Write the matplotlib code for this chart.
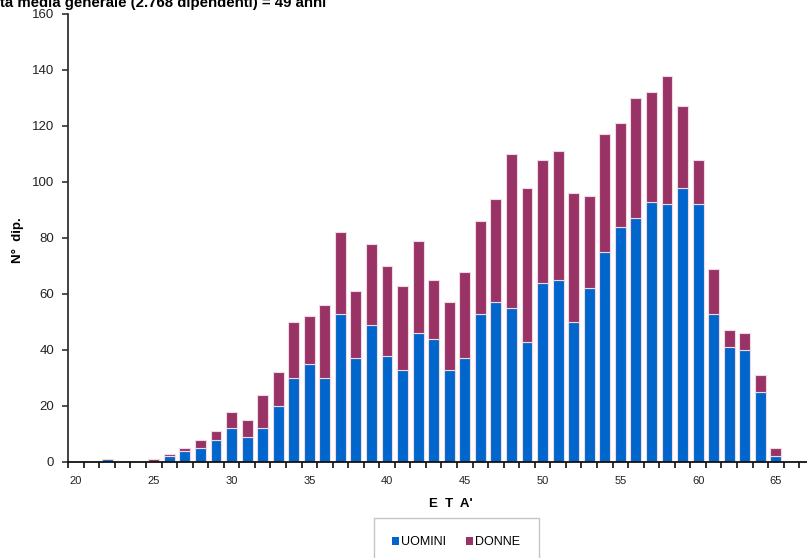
import matplotlib
matplotlib.use("Agg")
import matplotlib.pyplot as plt
import numpy as np

plt.rcParams['font.family'] = ['Liberation Sans', 'DejaVu Sans']

ages = list(range(20, 67))
uomini = [0, 0, 1, 0, 0, 0, 2, 4, 5, 8, 12, 9, 12, 20, 30, 35, 30, 53, 37, 49,
          38, 33, 46, 44, 33, 37, 53, 57, 55, 43, 64, 65, 50, 62, 75, 84, 87, 93,
          92, 98, 92, 53, 41, 40, 25, 2, 0]
totale = [0, 0, 1, 0, 0, 1, 3, 5, 8, 11, 18, 15, 24, 32, 50, 52, 56, 82, 61, 78,
          70, 63, 79, 65, 57, 68, 86, 94, 110, 98, 108, 111, 96, 95, 117, 121, 130,
          132, 138, 127, 108, 69, 47, 46, 31, 5, 0]
donne = [t - u for t, u in zip(totale, uomini)]
x_labels = [20, 25, 30, 35, 40, 45, 50, 55, 60, 65]
y_ticks = [0, 20, 40, 60, 80, 100, 120, 140, 160]
title = "Età media generale (2.768 dipendenti) = 49 anni"

c_u = '#0066CC'
c_d = '#993366'
edge = '#efd9e5'

fig = plt.figure(figsize=(8.07, 5.58), dpi=100)
W, H = 807, 558
ax = fig.add_axes([68.2 / W, (H - 462) / H, (W - 68.2) / W, (462 - 14) / H])

b1 = ax.bar(ages, uomini, width=0.7, color=c_u, edgecolor=edge, linewidth=0.8, label='UOMINI')
b2 = ax.bar(ages, donne, width=0.7, bottom=uomini, color=c_d, edgecolor=edge, linewidth=0.8, label='DONNE')

ax.set_xlim(19.5, 67.0)
ax.set_ylim(0, 160)
ax.spines['top'].set_visible(False)
ax.spines['right'].set_visible(False)
ax.spines['left'].set_color('#333333')
ax.spines['left'].set_linewidth(1.3)
ax.spines['bottom'].set_color('#111111')
ax.spines['bottom'].set_linewidth(1.3)

ax.set_yticks(y_ticks)
ax.tick_params(axis='y', direction='out', length=4, width=1.2, color='#333333',
               labelsize=9.5, labelcolor='#222222', pad=6)
ax.set_xticks(x_labels)
ax.set_xticks(np.arange(19.5, 67.0, 1.0), minor=True)
ax.tick_params(axis='x', which='major', length=0, labelsize=8, labelcolor='#222222', pad=10)
ax.tick_params(axis='x', which='minor', direction='out', length=4, width=1.2, color='#111111')

fig.text(18 / W, 1 - 240 / H, "N°  dip.", rotation=90, ha='center', va='center',
         fontsize=9.5, fontweight='bold')
fig.text(451 / W, 1 - 504 / H, "E  T  A'", ha='center', va='center',
         fontsize=9.5, fontweight='bold')

# measure the width of the leading "E" so the title starts just off the left edge
fs_title = 10.8
renderer = fig.canvas.get_renderer()
probe = fig.text(0, 0, "E", fontsize=fs_title, fontweight='bold')
e_w = probe.get_window_extent(renderer=renderer).width
probe.remove()
fig.text(-(e_w + 0.5) / W, 1 - 6.5 / H, title, ha='left', va='baseline',
         fontsize=fs_title, fontweight='bold')

leg = fig.legend(handles=[b1, b2], labels=['UOMINI', 'DONNE'], ncol=2,
                 loc='upper center', bbox_to_anchor=(456 / W, 1 - 517.7 / H),
                 fontsize=9, frameon=True, fancybox=False, borderpad=1.5,
                 handlelength=0.55, handleheight=0.55, handletextpad=0.15,
                 columnspacing=1.6, borderaxespad=0)
leg.get_frame().set_edgecolor('#b8b8b8')
leg.get_frame().set_linewidth(1.0)
for h in leg.legend_handles:
    h.set_edgecolor('none')

fig.savefig('out.png', dpi=100)
